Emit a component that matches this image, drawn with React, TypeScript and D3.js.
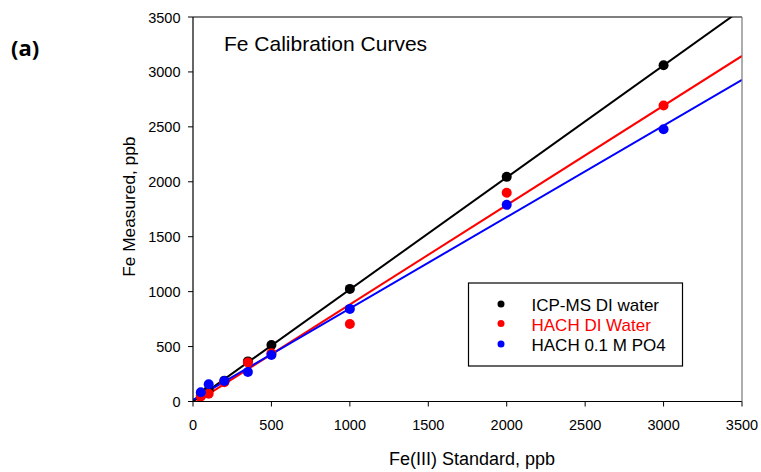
import React from "react";
import * as d3 from "d3";

const xTicks = [0, 500, 1000, 1500, 2000, 2500, 3000, 3500];
const yTicks = [0, 500, 1000, 1500, 2000, 2500, 3000, 3500];

const icpX = [50, 100, 200, 350, 500, 1000, 2000, 3000];
const icpY = [55, 105, 190, 365, 515, 1025, 2045, 3060];

const hachDiX = [50, 100, 200, 350, 500, 1000, 2000, 3000];
const hachDiY = [45, 70, 175, 355, 440, 705, 1900, 2695];

const hachPoX = [50, 100, 200, 350, 500, 1000, 2000, 3000];
const hachPoY = [85, 157, 187, 268, 423, 843, 1790, 2478];

// fitted lines: [slope, intercept]
const icpFit = [1.02, 0];
const hachDiFit = [0.905, -22];
const hachPoFit = [0.832, 15];

const seriesNames = ["ICP-MS DI water", "HACH DI Water", "HACH 0.1 M PO4"];
const seriesColors = ["#000000", "#ff0000", "#0000ff"];
const legendTextColors = ["#000000", "#ff0000", "#000000"];

export default function App() {
  const W = 761, H = 472;
  const left = 193, right = 742, top = 17, bottom = 401.5;
  const x = d3.scaleLinear().domain([0, 3500]).range([left, right]);
  const y = d3.scaleLinear().domain([0, 3500]).range([bottom, top]);
  const font = "'Liberation Sans', Arial, sans-serif";

  const series = [
    { xs: icpX, ys: icpY, fit: icpFit },
    { xs: hachDiX, ys: hachDiY, fit: hachDiFit },
    { xs: hachPoX, ys: hachPoY, fit: hachPoFit },
  ];

  return (
    <svg width={W} height={H} style={{ position: "absolute", left: 0, top: 0, background: "#fff" }}>
      <defs>
        <clipPath id="plot">
          <rect x={left} y={top} width={right - left} height={bottom - top} />
        </clipPath>
      </defs>
      <text x={11} y={56} fontFamily="'Open Sans', sans-serif" fontWeight="bold" fontSize={22} fill="#000">(a)</text>

      <g clipPath="url(#plot)">
        {series.map((s, i) => {
          const [m, b] = s.fit;
          const pts = [0, 3500].map((xv) => [xv, m * xv + b] as [number, number]);
          const l = d3.line<[number, number]>().x((d) => x(d[0])).y((d) => y(d[1]));
          return <path key={"l" + i} d={l(pts) || ""} stroke={seriesColors[i]} strokeWidth={2} fill="none" />;
        })}
      </g>
      {series.map((s, i) => (
        <g key={"p" + i}>
          {s.xs.map((xv, j) => (
            <circle key={j} cx={x(xv)} cy={y(s.ys[j])} r={5} fill={seriesColors[i]} />
          ))}
        </g>
      ))}

      <line x1={left} x2={right} y1={top} y2={top} stroke="#000" strokeWidth={1.2} />
      <line x1={left} x2={left} y1={top} y2={bottom} stroke="#000" strokeWidth={1.2} />
      <line x1={left} x2={right} y1={bottom} y2={bottom} stroke="#000" strokeWidth={1.2} />
      <line x1={right} x2={right} y1={top} y2={bottom} stroke="#777" strokeWidth={1.2} />

      {xTicks.map((t) => (
        <g key={"x" + t}>
          <line x1={x(t)} x2={x(t)} y1={bottom} y2={bottom + 5} stroke="#000" />
          <text x={x(t)} y={bottom + 28} textAnchor="middle" fontFamily={font} fontSize={14.5} fill="#000">{t}</text>
        </g>
      ))}
      {yTicks.map((t) => (
        <g key={"y" + t}>
          <line x1={left - 5} x2={left} y1={y(t)} y2={y(t)} stroke="#000" />
          <text x={left - 12.5} y={y(t) + 5.5} textAnchor="end" fontFamily={font} fontSize={14.5} fill="#000">{t}</text>
        </g>
      ))}

      <text x={472} y={465} textAnchor="middle" fontFamily={font} fontSize={18} fill="#000">Fe(III) Standard, ppb</text>
      <text transform={`translate(135, 206.7) rotate(-90)`} textAnchor="middle" fontFamily={font} fontSize={17.3} fill="#000">Fe Measured, ppb</text>

      <text x={224} y={51} fontFamily={font} fontSize={21} fill="#000">Fe Calibration Curves</text>

      <rect x={468.5} y={283} width={214} height={83} fill="#fff" stroke="#000" strokeWidth={1.2} />
      {seriesNames.map((n, i) => {
        const cy = [304, 323.5, 344][i];
        return (
          <g key={"lg" + i}>
            <circle cx={501} cy={cy} r={3.5} fill={seriesColors[i]} />
            <text x={531.5} y={cy + 7} fontFamily={font} fontSize={17} fill={legendTextColors[i]}>{n}</text>
          </g>
        );
      })}
    </svg>
  );
}
